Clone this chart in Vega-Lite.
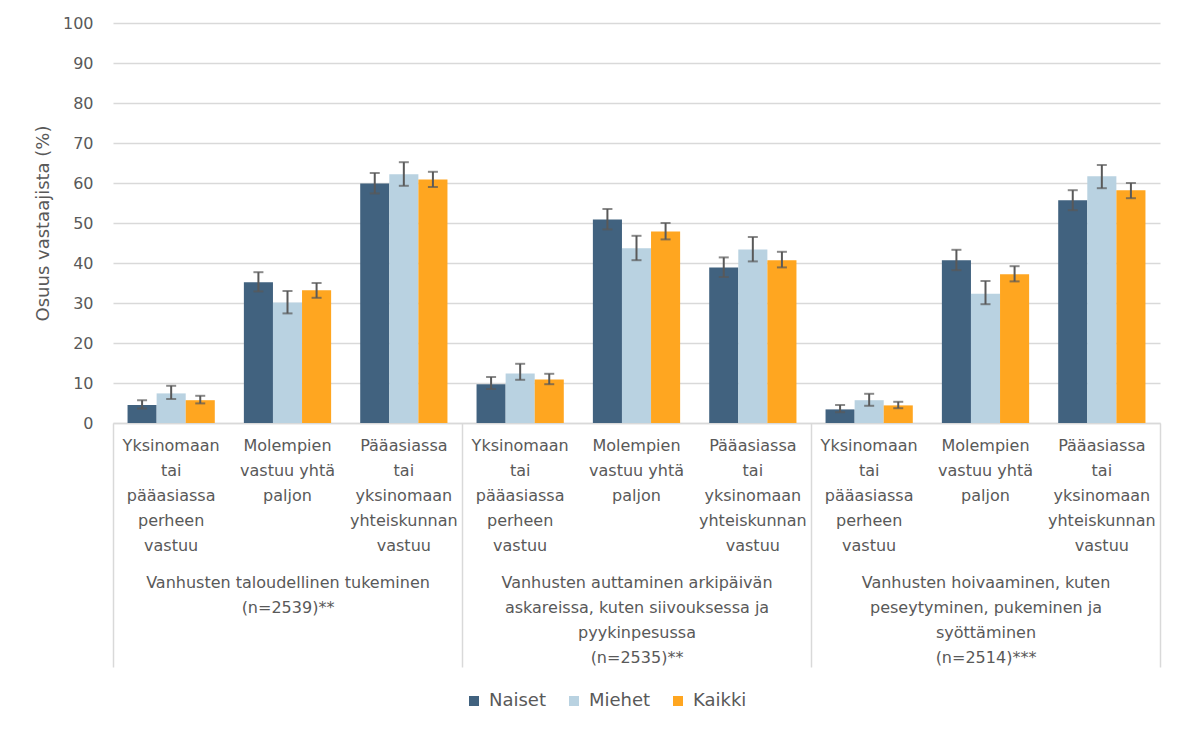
{
  "$schema": "https://vega.github.io/schema/vega-lite/v6.json",
  "width": 1047,
  "height": 400,
  "autosize": {"type": "none"},
  "padding": {"left": 113, "top": 23, "right": 23, "bottom": 310},
  "config": {
    "font": "DejaVu Sans",
    "view": {"stroke": null},
    "axis": {"labelColor": "#595959", "titleColor": "#595959"},
    "axisY": {
      "grid": true, "gridColor": "#d9d9d9", "gridWidth": 1.5,
      "domain": false, "ticks": false, "labelPadding": 20, "labelFontSize": 16,
      "titleFontSize": 18, "titleFontWeight": "normal", "titlePadding": 10, "labelOverlap": false
    }
  },
  "datasets": {
    "bars": [
      {"key": "1|Yksinomaan|tai|pääasiassa|perheen|vastuu", "series": "Naiset", "value": 4.5, "lo": 3.6, "hi": 5.7},
      {"key": "1|Yksinomaan|tai|pääasiassa|perheen|vastuu", "series": "Miehet", "value": 7.4, "lo": 6.0, "hi": 9.3},
      {"key": "1|Yksinomaan|tai|pääasiassa|perheen|vastuu", "series": "Kaikki", "value": 5.7, "lo": 4.9, "hi": 6.8},
      {"key": "2|Molempien|vastuu yhtä|paljon", "series": "Naiset", "value": 35.2, "lo": 32.9, "hi": 37.7},
      {"key": "2|Molempien|vastuu yhtä|paljon", "series": "Miehet", "value": 30.1, "lo": 27.4, "hi": 33.0},
      {"key": "2|Molempien|vastuu yhtä|paljon", "series": "Kaikki", "value": 33.2, "lo": 31.3, "hi": 35.0},
      {"key": "3|Pääasiassa|tai|yksinomaan|yhteiskunnan|vastuu", "series": "Naiset", "value": 59.9, "lo": 57.4, "hi": 62.5},
      {"key": "3|Pääasiassa|tai|yksinomaan|yhteiskunnan|vastuu", "series": "Miehet", "value": 62.2, "lo": 59.3, "hi": 65.2},
      {"key": "3|Pääasiassa|tai|yksinomaan|yhteiskunnan|vastuu", "series": "Kaikki", "value": 60.9, "lo": 59.0, "hi": 62.8},
      {"key": "4|Yksinomaan|tai|pääasiassa|perheen|vastuu", "series": "Naiset", "value": 9.7, "lo": 8.5, "hi": 11.5},
      {"key": "4|Yksinomaan|tai|pääasiassa|perheen|vastuu", "series": "Miehet", "value": 12.4, "lo": 10.8, "hi": 14.8},
      {"key": "4|Yksinomaan|tai|pääasiassa|perheen|vastuu", "series": "Kaikki", "value": 10.9, "lo": 9.7, "hi": 12.3},
      {"key": "5|Molempien|vastuu yhtä|paljon", "series": "Naiset", "value": 50.9, "lo": 48.4, "hi": 53.5},
      {"key": "5|Molempien|vastuu yhtä|paljon", "series": "Miehet", "value": 43.7, "lo": 40.7, "hi": 46.8},
      {"key": "5|Molempien|vastuu yhtä|paljon", "series": "Kaikki", "value": 47.9, "lo": 45.9, "hi": 50.0},
      {"key": "6|Pääasiassa|tai|yksinomaan|yhteiskunnan|vastuu", "series": "Naiset", "value": 38.9, "lo": 36.5, "hi": 41.4},
      {"key": "6|Pääasiassa|tai|yksinomaan|yhteiskunnan|vastuu", "series": "Miehet", "value": 43.4, "lo": 40.4, "hi": 46.5},
      {"key": "6|Pääasiassa|tai|yksinomaan|yhteiskunnan|vastuu", "series": "Kaikki", "value": 40.7, "lo": 38.9, "hi": 42.8},
      {"key": "7|Yksinomaan|tai|pääasiassa|perheen|vastuu", "series": "Naiset", "value": 3.4, "lo": 2.7, "hi": 4.5},
      {"key": "7|Yksinomaan|tai|pääasiassa|perheen|vastuu", "series": "Miehet", "value": 5.7, "lo": 4.3, "hi": 7.3},
      {"key": "7|Yksinomaan|tai|pääasiassa|perheen|vastuu", "series": "Kaikki", "value": 4.4, "lo": 3.7, "hi": 5.3},
      {"key": "8|Molempien|vastuu yhtä|paljon", "series": "Naiset", "value": 40.7, "lo": 38.2, "hi": 43.3},
      {"key": "8|Molempien|vastuu yhtä|paljon", "series": "Miehet", "value": 32.3, "lo": 29.7, "hi": 35.5},
      {"key": "8|Molempien|vastuu yhtä|paljon", "series": "Kaikki", "value": 37.2, "lo": 35.4, "hi": 39.2},
      {"key": "9|Pääasiassa|tai|yksinomaan|yhteiskunnan|vastuu", "series": "Naiset", "value": 55.7, "lo": 53.2, "hi": 58.2},
      {"key": "9|Pääasiassa|tai|yksinomaan|yhteiskunnan|vastuu", "series": "Miehet", "value": 61.7, "lo": 58.7, "hi": 64.5},
      {"key": "9|Pääasiassa|tai|yksinomaan|yhteiskunnan|vastuu", "series": "Kaikki", "value": 58.2, "lo": 56.2, "hi": 60.0}
    ],
    "groups": [
      {"group": "Vanhusten taloudellinen tukeminen|(n=2539)**"},
      {"group": "Vanhusten auttaminen arkipäivän|askareissa, kuten siivouksessa ja|pyykinpesussa|(n=2535)**"},
      {"group": "Vanhusten hoivaaminen, kuten|peseytyminen, pukeminen ja|syöttäminen|(n=2514)***"}
    ]
  },
  "layer": [
    {
      "data": {"name": "bars"},
      "encoding": {
        "x": {
          "field": "key", "type": "nominal", "sort": null,
          "scale": {"paddingInner": 0.25, "paddingOuter": 0.125},
          "axis": {
            "orient": "bottom", "offset": 0, "title": null, "labelAngle": 0, "ticks": false,
            "domain": true, "domainColor": "#d9d9d9", "domainWidth": 1.5,
            "labelPadding": 14, "labelLineHeight": 25, "labelFontSize": 16,
            "labelLimit": 0, "labelOverlap": false,
            "labelExpr": "slice(split(datum.label, '|'), 1)"
          }
        },
        "xOffset": {
          "field": "series", "type": "nominal", "sort": ["Naiset", "Miehet", "Kaikki"],
          "scale": {"paddingInner": 0, "paddingOuter": 0}
        }
      },
      "layer": [
        {
          "mark": {"type": "bar"},
          "encoding": {
            "y": {
              "field": "value", "type": "quantitative",
              "scale": {"domain": [0, 100], "nice": false},
              "axis": {"values": [0, 10, 20, 30, 40, 50, 60, 70, 80, 90, 100], "title": "Osuus vastaajista (%)"}
            },
            "color": {
              "field": "series", "type": "nominal",
              "scale": {"domain": ["Naiset", "Miehet", "Kaikki"], "range": ["#41627f", "#b9d2e1", "#ffa620"]},
              "legend": {
                "orient": "none", "legendX": 352, "legendY": 669, "direction": "horizontal",
                "title": null, "symbolType": "square", "symbolSize": 100, "symbolStrokeWidth": 0,
                "labelFontSize": 18, "labelColor": "#595959", "columnPadding": 18, "labelOffset": 6,
                "padding": 0
              }
            }
          }
        },
        {
          "mark": {"type": "rule", "color": "#595959", "strokeWidth": 2},
          "encoding": {
            "y": {"field": "lo", "type": "quantitative", "axis": {"values": [0, 10, 20, 30, 40, 50, 60, 70, 80, 90, 100], "title": "Osuus vastaajista (%)"}},
            "y2": {"field": "hi"}
          }
        },
        {
          "mark": {"type": "tick", "color": "#595959", "thickness": 2, "size": 10},
          "encoding": {"y": {"field": "lo", "type": "quantitative", "axis": {"values": [0, 10, 20, 30, 40, 50, 60, 70, 80, 90, 100], "title": "Osuus vastaajista (%)"}}}
        },
        {
          "mark": {"type": "tick", "color": "#595959", "thickness": 2, "size": 10},
          "encoding": {"y": {"field": "hi", "type": "quantitative", "axis": {"values": [0, 10, 20, 30, 40, 50, 60, 70, 80, 90, 100], "title": "Osuus vastaajista (%)"}}}
        }
      ]
    },
    {
      "data": {"name": "groups"},
      "mark": {"type": "rule", "opacity": 0},
      "encoding": {
        "x": {
          "field": "group", "type": "nominal", "sort": null,
          "scale": {"type": "band", "paddingInner": 0, "paddingOuter": 0},
          "axis": {
            "orient": "bottom", "offset": 0, "title": null, "labelAngle": 0,
            "domain": false, "tickBand": "extent", "tickSize": 244, "tickColor": "#d9d9d9", "tickWidth": 1.5,
            "labelPadding": -93, "labelLineHeight": 25, "labelFontSize": 16,
            "labelLimit": 0, "labelOverlap": false, "labelBaseline": "top",
            "labelExpr": "split(datum.label, '|')"
          }
        }
      }
    }
  ],
  "resolve": {"scale": {"x": "independent"}, "axis": {"x": "independent"}}
}
